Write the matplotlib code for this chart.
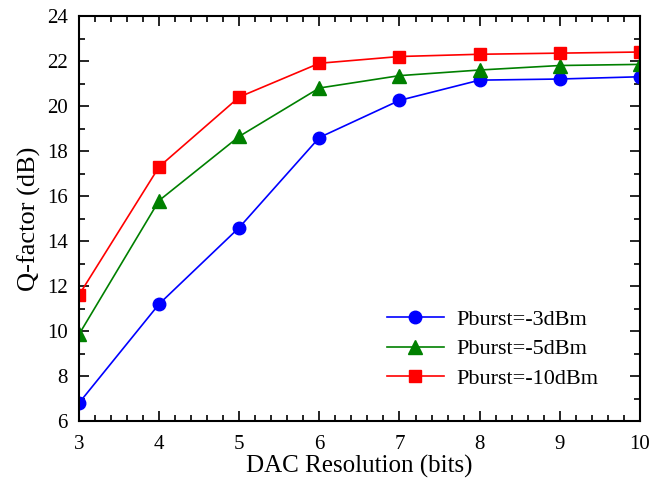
import matplotlib.pyplot as plt
from matplotlib.ticker import MultipleLocator

plt.rcParams['font.family'] = ['Liberation Serif', 'DejaVu Serif']
plt.rcParams['mathtext.fontset'] = 'stix'

# data
bits = [3, 4, 5, 6, 7, 8, 9, 10]
q_3dbm = [6.8, 11.2, 14.6, 18.6, 20.25, 21.15, 21.2, 21.3]
q_5dbm = [9.85, 15.8, 18.65, 20.8, 21.35, 21.6, 21.8, 21.85]
q_10dbm = [11.6, 17.3, 20.4, 21.9, 22.2, 22.3, 22.35, 22.4]

fig = plt.figure(figsize=(6.61, 4.78), dpi=100)
ax = fig.add_axes([0.1195, 0.1192, 0.8485, 0.8473])

ax.plot(bits, q_3dbm, color='blue', marker='o', markersize=9, linewidth=1.2,
        label='Pburst=-3dBm')
ax.plot(bits, q_5dbm, color='green', marker='^', markersize=10, linewidth=1.2,
        label='Pburst=-5dBm')
ax.plot(bits, q_10dbm, color='red', marker='s', markersize=9, linewidth=1.2,
        label='Pburst=-10dBm')

ax.set_xlim(3, 10)
ax.set_ylim(6, 24)
ax.xaxis.set_major_locator(MultipleLocator(1))
ax.xaxis.set_minor_locator(MultipleLocator(0.2))
ax.yaxis.set_major_locator(MultipleLocator(2))
ax.yaxis.set_minor_locator(MultipleLocator(1))
ax.tick_params(which='both', direction='in', top=True, right=True,
               labelsize=15, width=1.2)
ax.tick_params(which='major', length=7, pad=8)
ax.tick_params(axis='x', which='major', pad=10)
ax.tick_params(which='minor', length=4)
for s in ax.spines.values():
    s.set_linewidth(1.5)

ax.set_xlabel('DAC Resolution (bits)', fontsize=18, labelpad=1)
ax.set_ylabel('Q-factor (dB)', fontsize=19, labelpad=4)

ax.legend(loc='lower right', frameon=False, fontsize=16, handlelength=2.6,
          handletextpad=0.55, labelspacing=0.4,
          bbox_to_anchor=(0.962, 0.03))

fig.savefig('out.png', dpi=100)
